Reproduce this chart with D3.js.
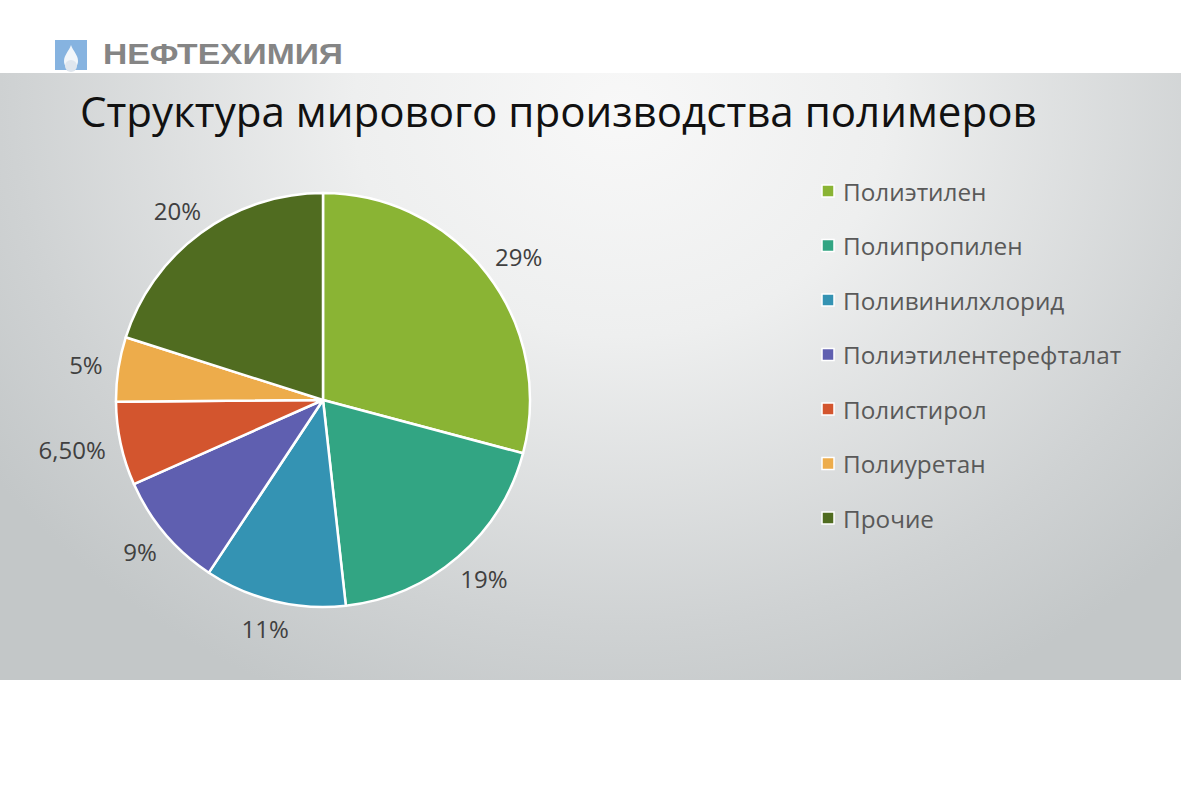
<!DOCTYPE html>
<html><head><meta charset="utf-8">
<script src="https://cdn.jsdelivr.net/npm/d3@7"></script>
<style>html,body{margin:0;padding:0;background:#fff;}svg{display:block;}</style>
</head><body>
<svg id="chart" width="1181" height="787"></svg>
<script>
const categories = ["Полиэтилен","Полипропилен","Поливинилхлорид","Полиэтилентерефталат","Полистирол","Полиуретан","Прочие"];
const values = [29, 19, 11, 9, 6.5, 5, 20];
const labels = ["29%","19%","11%","9%","6,50%","5%","20%"];
const colors = ["#8ab434","#32a583","#3493b3","#5f5fb0","#d3552e","#edac4b","#506c20"];
const title = "Структура мирового производства полимеров";
const logoText = "НЕФТЕХИМИЯ";

const svg = d3.select("#chart");
const W = 1181, H = 787;
const defs = svg.append("defs");
const rg = defs.append("radialGradient").attr("id","bg")
  .attr("gradientUnits","userSpaceOnUse").attr("cx",620).attr("cy",110).attr("r",760)
  .attr("gradientTransform","translate(620,110) scale(1,0.85) translate(-620,-110)");
rg.append("stop").attr("offset",0).attr("stop-color","#f8f8f8");
rg.append("stop").attr("offset",0.35).attr("stop-color","#eeefef");
rg.append("stop").attr("offset",0.8).attr("stop-color","#cfd2d3");
rg.append("stop").attr("offset",1).attr("stop-color","#c3c7c8");

svg.append("rect").attr("x",0).attr("y",0).attr("width",W).attr("height",H).attr("fill","#fff");
svg.append("rect").attr("x",0).attr("y",73).attr("width",W).attr("height",607).attr("fill","url(#bg)");

// logo
const logo = svg.append("g");
logo.append("rect").attr("x",55).attr("y",40).attr("width",32).attr("height",30).attr("fill","#86b3e0");
logo.append("path").attr("d","M71,45 C69,51 64,55 64,61 C64,66 67,69 71,69 C75,69 78,66 78,61 C78,55 73,51 71,45 Z").attr("fill","#f2f6fa");
logo.append("circle").attr("cx",71).attr("cy",66).attr("r",6).attr("fill","#dfe6ee");
logo.append("text").attr("x",103).attr("y",64).text(logoText)
  .attr("font-family","Liberation Sans, Arial, sans-serif").attr("font-weight","bold")
  .attr("font-size",29).attr("fill","#858585").attr("textLength",240).attr("lengthAdjust","spacingAndGlyphs");

// title
const t = svg.append("text").attr("x",80).attr("y",127).text(title)
  .attr("font-family","Open Sans, sans-serif").attr("font-size",42).attr("fill","#111");
const tl = t.node().getComputedTextLength();
t.attr("font-size", 42*957/tl);

// pie
const cx = 323, cy = 400, R = 207;
const pie = d3.pie().sort(null).value(d => d)(values);
const arc = d3.arc().innerRadius(0).outerRadius(R);
const g = svg.append("g").attr("transform",`translate(${cx},${cy})`);
g.selectAll("path").data(pie).join("path")
  .attr("d",arc).attr("fill",(d,i)=>colors[i]).attr("stroke","#fff").attr("stroke-width",2.5).attr("stroke-linejoin","round");
const lbl = g.selectAll("text").data(pie).join("text")
  .attr("text-anchor","middle").attr("dominant-baseline","central")
  .attr("font-family","Open Sans, sans-serif").attr("font-size",24).attr("fill","#404040")
  .text((d,i)=>labels[i]);
lbl.each(function(d){
  const a = (d.startAngle + d.endAngle)/2;
  const dx = Math.sin(a), dy = -Math.cos(a);
  const bb = this.getBBox();
  const hw = bb.width/2, hh = 12;
  const r0 = R + 16;
  const x = dx*r0 + dx*hw, y = dy*r0 + dy*hh;
  d3.select(this).attr("transform",`translate(${x},${y})`);
});

// legend
const ly = d3.scalePoint().domain(categories).range([191,518]);
const lg = svg.append("g");
const items = lg.selectAll("g").data(categories).join("g").attr("transform",d=>`translate(822,${ly(d)})`);
items.append("rect").attr("x",0).attr("y",-6).attr("width",12).attr("height",12)
  .attr("fill",(d,i)=>colors[i]).attr("stroke","#fff").attr("stroke-width",1.5);
items.append("text").attr("x",21).attr("y",0).attr("dominant-baseline","central")
  .attr("font-family","Open Sans, sans-serif").attr("font-size",24.3).attr("fill","#595959").text(d=>d);
</script>
</body></html>
